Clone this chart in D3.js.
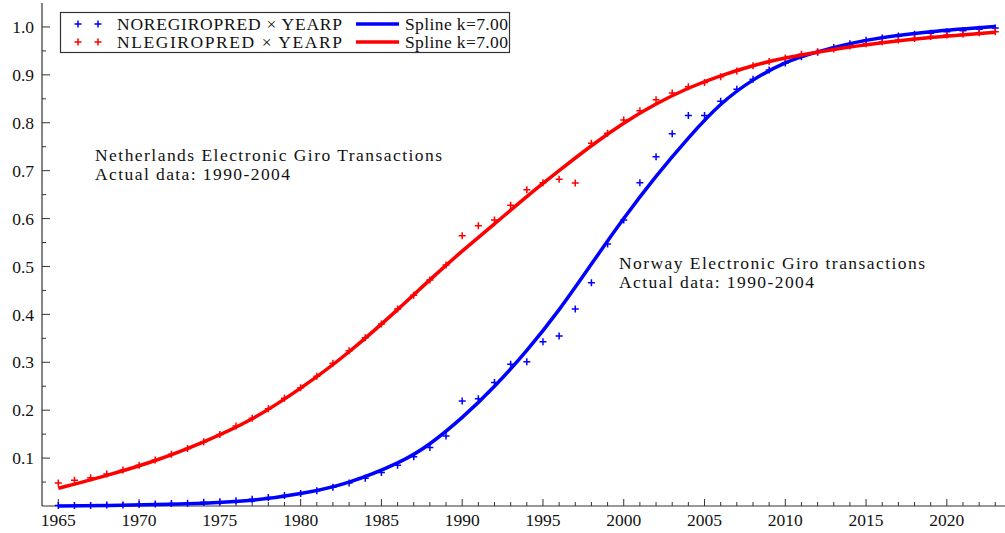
<!DOCTYPE html>
<html><head><meta charset="utf-8">
<script src="https://cdn.jsdelivr.net/npm/d3@7"></script>
<style>
html,body{margin:0;padding:0;background:#fff;}
svg{display:block;}
</style></head>
<body><svg id="c" width="1005" height="533"></svg>
<script>
const years = d3.range(1965, 2024);
const noPoints = [0.001,0.001,0.001,0.002,0.002,0.003,0.004,0.005,0.006,0.008,0.009,0.011,0.014,0.018,0.022,0.026,0.032,0.039,0.048,0.058,0.070,0.085,0.103,0.122,0.146,0.219,0.224,0.258,0.296,0.301,0.343,0.355,0.411,0.466,0.547,0.597,0.675,0.729,0.777,0.815,0.815,0.845,0.870,0.891,0.910,0.925,0.938,0.947,0.957,0.965,0.972,0.977,0.981,0.985,0.987,0.990,0.992,0.995,0.998];
const nlPoints = [0.048,0.054,0.059,0.067,0.075,0.085,0.096,0.108,0.120,0.134,0.149,0.167,0.183,0.203,0.225,0.247,0.271,0.298,0.324,0.351,0.380,0.411,0.440,0.472,0.503,0.564,0.585,0.597,0.628,0.660,0.675,0.682,0.674,0.757,0.778,0.806,0.825,0.848,0.862,0.875,0.884,0.896,0.908,0.919,0.928,0.935,0.943,0.948,0.954,0.960,0.965,0.969,0.973,0.976,0.980,0.983,0.985,0.988,0.990];
const noSplineYears = [1965,1968,1971,1974,1977,1980,1983,1986,1988,1990,1992,1994,1996,1998,2000,2002,2004,2006,2008,2010,2012,2015,2019,2023];
const noSplineVals  = [0.000,0.001,0.003,0.006,0.012,0.026,0.050,0.090,0.130,0.185,0.250,0.325,0.410,0.505,0.600,0.688,0.768,0.838,0.889,0.925,0.948,0.972,0.990,1.001];
const nlSplineYears = [1965,1968,1971,1974,1977,1980,1983,1986,1988,1990,1992,1994,1996,1998,2000,2002,2004,2006,2008,2010,2013,2016,2019,2023];
const nlSplineVals  = [0.037,0.064,0.095,0.134,0.182,0.246,0.322,0.410,0.472,0.532,0.589,0.646,0.700,0.752,0.799,0.839,0.872,0.898,0.919,0.935,0.953,0.967,0.978,0.989];
const yTickLabels = [0.1,0.2,0.3,0.4,0.5,0.6,0.7,0.8,0.9,1.0];
const xTickLabels = [1965,1970,1975,1980,1985,1990,1995,2000,2005,2010,2015,2020];
const legendLabels = ["NOREGIROPRED \u00d7 YEARP","NLEGIROPRED \u00d7 YEARP","Spline k=7.00","Spline k=7.00"];
const annoNL = ["Netherlands Electronic Giro Transactions","Actual data: 1990-2004"];
const annoNO = ["Norway Electronic Giro transactions","Actual data: 1990-2004"];

const BLUE="#0000ff", RED="#ff0000", AX="#333";
const FONT="'Liberation Serif'";
const svg = d3.select("#c");
svg.append("rect").attr("width",1005).attr("height",533).attr("fill","#fff");

const x = d3.scaleLinear().domain([1963.99, 2023.6]).range([42, 1005]);
const y = d3.scaleLinear().domain([0, 1.05]).range([506, 3]);

// axes
const gx = svg.append("g").attr("transform","translate(0,506)");
gx.append("line").attr("x1",42).attr("x2",1005).attr("stroke",AX).attr("stroke-width",1.2);
gx.selectAll("line.mn").data(d3.range(1965,2024)).join("line").attr("class","mn")
  .attr("x1",d=>x(d)).attr("x2",d=>x(d)).attr("y1",0).attr("y2",d=>d%5===0?-7:-4)
  .attr("stroke",AX).attr("stroke-width",1);
gx.selectAll("text").data(xTickLabels).join("text")
  .attr("x",d=>x(d)).attr("y",20).attr("text-anchor","middle").style("font-family",FONT)
  .attr("font-size",17.5).attr("fill","#111").text(d=>d);

const gy = svg.append("g").attr("transform","translate(42,0)");
gy.append("line").attr("y1",3).attr("y2",506).attr("stroke",AX).attr("stroke-width",1.2);
gy.selectAll("line.mn").data(d3.range(1,21).map(i=>i*0.05)).join("line").attr("class","mn")
  .attr("y1",d=>y(d)).attr("y2",d=>y(d)).attr("x1",0).attr("x2",(d,i)=>i%2===1?8:4)
  .attr("stroke",AX).attr("stroke-width",1);
gy.selectAll("text").data(yTickLabels).join("text")
  .attr("x",-8).attr("y",d=>y(d)).attr("dy","0.35em").attr("text-anchor","end").style("font-family",FONT)
  .attr("font-size",17.5).attr("fill","#111").text(d=>d.toFixed(1));

// markers
function plus(g, data, color){
  const s = 3.5;
  g.selectAll("path.p").data(data).join("path").attr("class","p")
    .attr("d",d=>`M${x(d[0])-s},${y(d[1])}H${x(d[0])+s}M${x(d[0])},${y(d[1])-s}V${y(d[1])+s}`)
    .attr("stroke",color).attr("stroke-width",1.5).attr("fill","none");
}
plus(svg.append("g"), years.map((yr,i)=>[yr,noPoints[i]]), BLUE);
plus(svg.append("g"), years.map((yr,i)=>[yr,nlPoints[i]]), RED);

const line = d3.line().x(d=>x(d[0])).y(d=>y(d[1])).curve(d3.curveNatural);
svg.append("path").datum(noSplineYears.map((yr,i)=>[yr,noSplineVals[i]]))
  .attr("d",line).attr("fill","none").attr("stroke",BLUE).attr("stroke-width",3.5);
svg.append("path").datum(nlSplineYears.map((yr,i)=>[yr,nlSplineVals[i]]))
  .attr("d",line).attr("fill","none").attr("stroke",RED).attr("stroke-width",3.5);

// legend
const lg = svg.append("g");
lg.append("rect").attr("x",60.5).attr("y",12.5).attr("width",449).attr("height",40)
  .attr("fill","#fff").attr("stroke",AX).attr("stroke-width",1.2);
const rows=[24,42];
[BLUE,RED].forEach((c,i)=>{
  [78,98].forEach(px=>{
    lg.append("path").attr("d",`M${px-3.5},${rows[i]}H${px+3.5}M${px},${rows[i]-3.5}V${rows[i]+3.5}`)
      .attr("stroke",c).attr("stroke-width",1.5);
  });
  lg.append("text").attr("x",117).attr("y",rows[i]+6).attr("font-size",17.5).style("font-family",FONT)
    .attr("textLength",225).attr("lengthAdjust","spacing").attr("fill","#111").text(legendLabels[i]);
  lg.append("line").attr("x1",356).attr("x2",399).attr("y1",rows[i]).attr("y2",rows[i])
    .attr("stroke",c).attr("stroke-width",3.5);
  lg.append("text").attr("x",405).attr("y",rows[i]+6).attr("font-size",17.5).style("font-family",FONT)
    .attr("textLength",103).attr("lengthAdjust","spacing").attr("fill","#111").text(legendLabels[2+i]);
});

// annotations
const an = svg.append("g").attr("fill","#111").attr("font-size",17.5);
function anno(xp, yp, w, t){
  an.append("text").attr("x",xp).attr("y",yp).style("font-family",FONT)
    .attr("textLength",w).attr("lengthAdjust","spacing").text(t);
}
anno(95,161,347,annoNL[0]);
anno(95,180,195,annoNL[1]);
anno(619,269,306,annoNO[0]);
anno(619,288,195,annoNO[1]);
</script></body></html>
